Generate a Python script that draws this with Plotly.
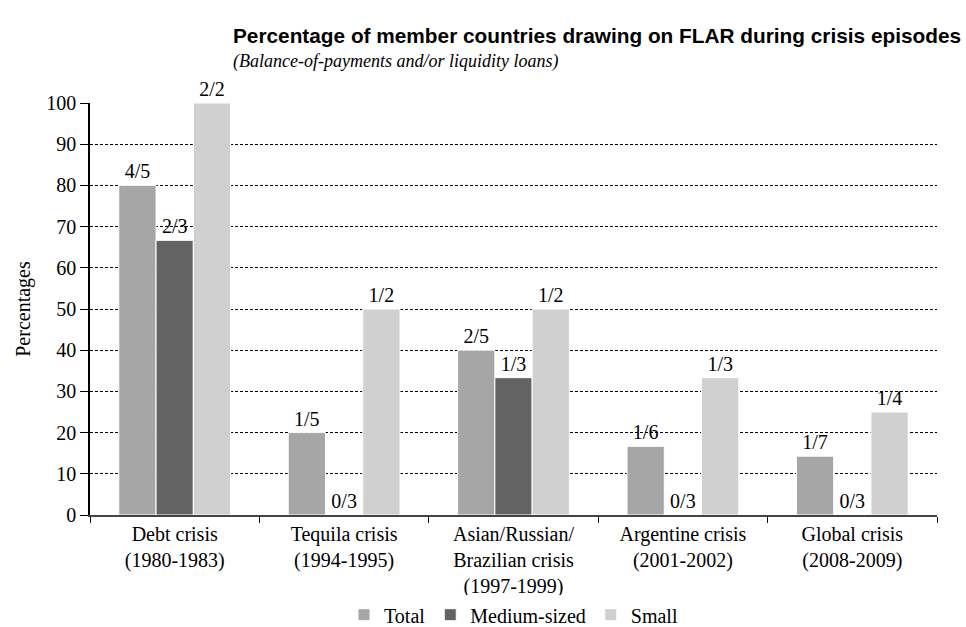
import plotly.graph_objects as go

categories = ["Debt crisis<br>(1980-1983)", "Tequila crisis<br>(1994-1995)",
              "Asian/Russian/<br>Brazilian crisis<br>(1997-1999)",
              "Argentine crisis<br>(2001-2002)", "Global crisis<br>(2008-2009)"]
total = [80, 20, 40, 16.67, 14.29]
total_lbl = ["4/5", "1/5", "2/5", "1/6", "1/7"]
medium = [66.67, 0, 33.33, 0, 0]
medium_lbl = ["2/3", "0/3", "1/3", "0/3", "0/3"]
small = [100, 50, 50, 33.33, 25]
small_lbl = ["2/2", "1/2", "1/2", "1/3", "1/4"]

serif = "Liberation Serif"
fig = go.Figure()
for name, vals, lbls, col in [("Total", total, total_lbl, "#a6a6a6"),
                              ("Medium-sized", medium, medium_lbl, "#636363"),
                              ("Small", small, small_lbl, "#d0d0d0")]:
    fig.add_trace(go.Bar(x=categories, y=vals, name=name, text=lbls,
                         textposition="outside", cliponaxis=False,
                         textfont=dict(family=serif, size=20, color="black"),
                         marker=dict(color=col, line=dict(color="white", width=1))))

fig.update_layout(
    width=966, height=627, barmode="group", bargap=0.34, bargroupgap=0,
    plot_bgcolor="white", paper_bgcolor="white",
    margin=dict(l=90, r=29, t=103, b=112, autoexpand=False),
    font=dict(family=serif, size=20, color="black"),
    legend=dict(orientation="h", x=0.5, xanchor="center", y=-0.242, yanchor="middle",
                font=dict(family=serif, size=20), itemwidth=30, traceorder="normal"),
    annotations=[
        dict(text="<b>Percentage of member countries drawing on FLAR during crisis episodes</b>",
             xref="paper", yref="paper", x=(231 - 90) / 847, y=(515 - 36) / 412,
             xanchor="left", yanchor="middle", showarrow=False,
             font=dict(family="Liberation Sans", size=20.8, color="black")),
        dict(text="<i>(Balance-of-payments and/or liquidity loans)</i>",
             xref="paper", yref="paper", x=(231 - 90) / 847, y=(515 - 62) / 412,
             xanchor="left", yanchor="middle", showarrow=False,
             font=dict(family=serif, size=18, color="black")),
    ],
)
fig.update_yaxes(range=[0, 100], dtick=10, showgrid=True, gridcolor="black", griddash="3px,2px",
                 gridwidth=1, showline=True, linecolor="black", linewidth=1.5,
                 ticks="outside", ticklen=8, tickcolor="black", zeroline=False,
                 automargin=False,
                 title=dict(text="Percentages", font=dict(family=serif, size=20), standoff=10),
                 tickfont=dict(family=serif, size=20))
fig.update_xaxes(showline=True, linecolor="#444444", linewidth=2, ticks="outside",
                 tickson="boundaries", ticklen=6, tickcolor="black", automargin=False,
                 tickfont=dict(family=serif, size=20))

fig.write_html("out.html", config={"displayModeBar": False},
               post_script="document.body.style.margin='0';")
